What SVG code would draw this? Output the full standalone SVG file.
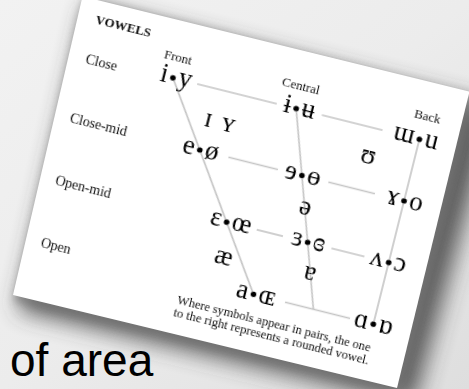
<svg xmlns="http://www.w3.org/2000/svg" width="469" height="389" viewBox="0 0 469 389">
  <defs>
    <linearGradient id="bg" x1="0" y1="0" x2="1" y2="1">
      <stop offset="0" stop-color="#f2f2f2"/>
      <stop offset="0.5" stop-color="#ececec"/>
      <stop offset="1" stop-color="#dedede"/>
    </linearGradient>
    <filter id="blur" x="-20%" y="-20%" width="140%" height="140%">
      <feGaussianBlur stdDeviation="11"/>
    </filter>
    <filter id="blur2" x="-20%" y="-20%" width="140%" height="140%">
      <feGaussianBlur stdDeviation="4"/>
    </filter>
    <filter id="soft" x="-5%" y="-5%" width="110%" height="110%">
      <feGaussianBlur stdDeviation="0.45"/>
    </filter>
  </defs>
  <style>
    .sym { font-family: "Liberation Serif", "DejaVu Serif", serif; font-size: 27px; fill: #000; }
    .l { text-anchor: end; }
    .m { text-anchor: middle; }
    .lab { font-family: "Liberation Serif", "DejaVu Serif", serif; font-size: 14px; fill: #111; }
    .hdr { font-family: "Liberation Serif", "DejaVu Serif", serif; font-size: 13px; fill: #111; }
    .note { font-family: "Liberation Serif", "DejaVu Serif", serif; font-size: 11.5px; fill: #111; }
    .ln { stroke: #c4c4c4; stroke-width: 1.6; fill: none; }
    .dot { fill: #000; }
  </style>

  <!-- background -->
  <rect x="0" y="0" width="469" height="389" fill="url(#bg)"/>

  <!-- shadow of the page -->
  <g id="shadow">
    <polygon points="88,6 496,108 414,404 18,310" fill="#3a3a3a" filter="url(#blur)" opacity="0.8"/>
    <polygon points="84,-2 475,97 403,394 14,301" fill="#777777" filter="url(#blur2)" opacity="0.7"/>
  </g>

  <!-- the page -->
  <g id="page">
    <polygon points="82.5,-3.6 469.5,91.5 397,388 13,295" fill="#ffffff"/>
  </g>

  <g id="chart" transform="translate(80,-4) rotate(14)" filter="url(#soft)">
    <g id="connectors">
      <line class="ln" x1="110" y1="57" x2="240.5" y2="247.5"/>
      <line class="ln" x1="237" y1="57" x2="302.25" y2="247.5"/>
      <line class="ln" x1="364" y1="57" x2="364" y2="247.5"/>
      <line class="ln" x1="135" y1="57" x2="217" y2="57"/>
      <line class="ln" x1="263.5" y1="57" x2="326" y2="57"/>
      <line class="ln" x1="183" y1="120.5" x2="234" y2="120.5"/>
      <line class="ln" x1="286" y1="120.5" x2="334" y2="120.5"/>
      <line class="ln" x1="228" y1="184" x2="255" y2="184"/>
      <line class="ln" x1="305" y1="184" x2="339" y2="184"/>
      <line class="ln" x1="273" y1="247.5" x2="340" y2="247.5"/>
    </g>

    <g id="labels">
      <text class="hdr" x="21" y="23" font-weight="bold" font-size="14">VOWELS</text>
      <text class="lab" x="21" y="64">Close</text>
      <text class="lab" x="20" y="125">Close-mid</text>
      <text class="lab" x="21" y="189">Open-mid</text>
      <text class="lab" x="22" y="253">Open</text>
      <text class="hdr" x="96" y="40">Front</text>
      <text class="hdr" x="217" y="38">Central</text>
      <text class="hdr" x="353" y="37">Back</text>
    </g>

    <g id="n-i-y">
      <circle class="dot" cx="110" cy="57" r="2.8"/>
      <text class="sym l" x="104.5" y="63">i</text>
      <text class="sym" x="115.5" y="63">y</text>
    </g>
    <g id="n-central-close">
      <circle class="dot" cx="237" cy="57" r="2.8"/>
      <text class="sym l" x="231.5" y="63">ɨ</text>
      <text class="sym" x="242.5" y="63">ʉ</text>
    </g>
    <g id="n-back-close">
      <circle class="dot" cx="364" cy="57" r="2.8"/>
      <text class="sym l" x="358.5" y="63">ɯ</text>
      <text class="sym" x="369.5" y="63">u</text>
    </g>
    <g id="n-near-close">
      <text class="sym m" x="154.5" y="95.5">ɪ</text>
      <text class="sym m" x="175" y="95.5">ʏ</text>
      <text class="sym m" x="318.5" y="92.5">ʊ</text>
    </g>
    <g id="n-e-o">
      <circle class="dot" cx="153.5" cy="120.5" r="2.8"/>
      <text class="sym l" x="148" y="126.5">e</text>
      <text class="sym" x="159" y="126.5">ø</text>
    </g>
    <g id="n-central-closemid">
      <circle class="dot" cx="258.75" cy="120.5" r="2.8"/>
      <text class="sym l" x="253.25" y="126.5">ɘ</text>
      <text class="sym" x="264.25" y="126.5">ɵ</text>
    </g>
    <g id="n-back-closemid">
      <circle class="dot" cx="364" cy="120.5" r="2.8"/>
      <text class="sym l" x="358.5" y="126.5">ɤ</text>
      <text class="sym" x="369.5" y="126.5">o</text>
    </g>
    <g id="n-schwa">
      <text class="sym m" x="269.7" y="158">ə</text>
    </g>
    <g id="n-openmid-front">
      <circle class="dot" cx="197" cy="184" r="2.8"/>
      <text class="sym l" x="191.5" y="190">ɛ</text>
      <text class="sym" x="202.5" y="190">œ</text>
    </g>
    <g id="n-openmid-central">
      <circle class="dot" cx="280.5" cy="184" r="2.8"/>
      <text class="sym l" x="275" y="190">ɜ</text>
      <text class="sym" x="286" y="190">ɞ</text>
    </g>
    <g id="n-openmid-back">
      <circle class="dot" cx="364" cy="184" r="2.8"/>
      <text class="sym l" x="358.5" y="190">ʌ</text>
      <text class="sym" x="369.5" y="190">ɔ</text>
    </g>
    <g id="n-ash">
      <text class="sym m" x="202.5" y="226">æ</text>
      <text class="sym m" x="290.3" y="220">ɐ</text>
    </g>
    <g id="n-open-front">
      <circle class="dot" cx="240.5" cy="247.5" r="2.8"/>
      <text class="sym l" x="235" y="253.5">a</text>
      <text class="sym" x="246" y="253.5">ɶ</text>
    </g>
    <g id="n-open-back">
      <circle class="dot" cx="364" cy="247.5" r="2.8"/>
      <text class="sym l" x="358.5" y="253.5">ɑ</text>
      <text class="sym" x="369.5" y="253.5">ɒ</text>
    </g>
    <g id="footnote">
      <text class="note" x="168" y="275" textLength="199" lengthAdjust="spacingAndGlyphs">Where symbols appear in pairs, the one</text>
      <text class="note" x="167.5" y="288" textLength="201" lengthAdjust="spacingAndGlyphs">to the right represents a rounded vowel.</text>
    </g>
  </g>

  <text x="10" y="376" font-family="'Liberation Sans', Arial, sans-serif" font-size="46" fill="#000">of area</text>
</svg>
